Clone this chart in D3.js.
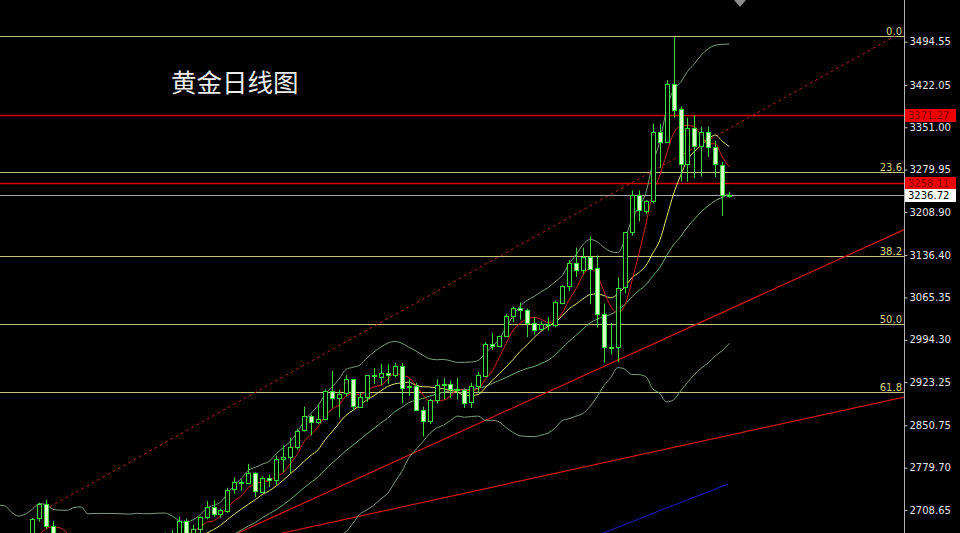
<!DOCTYPE html>
<html><head><meta charset="utf-8">
<script src="https://cdn.jsdelivr.net/npm/d3@7"></script>
<style>html,body{margin:0;padding:0;background:#000;}svg{display:block;}</style>
</head><body>
<svg id="chart" width="960" height="533"></svg>
<script>
// ---- data (daily XAUUSD candles) ----
const dates = ["12-04","12-05","12-06","12-09","12-10","12-11","12-12","12-13","12-16","12-17","12-18","12-19","12-20","12-23","12-24","12-26","12-27","12-30","12-31",
"01-02","01-03","01-06","01-07","01-08","01-09","01-10","01-13","01-14","01-15","01-16","01-17","01-20","01-21","01-22","01-23","01-24","01-27","01-28","01-29","01-30","01-31",
"02-03","02-04","02-05","02-06","02-07","02-10","02-11","02-12","02-13","02-14","02-17","02-18","02-19","02-20","02-21","02-24","02-25","02-26","02-27","02-28",
"03-03","03-04","03-05","03-06","03-07","03-10","03-11","03-12","03-13","03-14","03-17","03-18","03-19","03-20","03-21","03-24","03-25","03-26","03-27","03-28","03-31",
"04-01","04-02","04-03","04-04","04-07","04-08","04-09","04-10","04-11","04-14","04-15","04-16","04-17","04-21","04-22","04-23","04-24","04-25","04-28","04-29","04-30",
"05-01","05-02"];
const opens = [2643,2650,2632,2633,2660,2694,2718,2681,2648,2652,2646,2587,2594,2622,2612,2617,2634,2621,2606,
2624,2658,2640,2636,2648,2662,2670,2690,2662,2677,2697,2714,2702,2708,2743,2755,2754,2770,2740,2763,2760,2795,
2798,2815,2842,2866,2856,2861,2908,2897,2904,2928,2882,2898,2935,2933,2939,2936,2951,2914,2916,2876,
2858,2893,2918,2920,2911,2910,2889,2916,2935,2988,2984,3001,3034,3047,3044,3022,3011,3020,3019,3057,3085,
3124,3113,3134,3114,3037,2982,2983,3082,3175,3237,3211,3227,3343,3327,3424,3381,3288,3349,3319,3343,3317,
3288,3238];
const highs = [2657,2656,2643,2667,2695,2721,2726,2690,2664,2654,2664,2633,2632,2625,2620,2638,2636,2622,2625,
2664,2666,2647,2665,2671,2675,2697,2694,2684,2698,2724,2725,2711,2746,2763,2760,2786,2772,2765,2768,2800,2817,
2830,2845,2882,2869,2886,2911,2942,2910,2935,2929,2906,2935,2947,2954,2953,2956,2955,2928,2922,2882,
2895,2928,2930,2925,2930,2913,2922,2940,2990,3005,3001,3038,3050,3057,3047,3032,3025,3032,3060,3086,3128,
3149,3149,3167,3136,3055,3023,3099,3175,3245,3245,3229,3357,3357,3430,3502,3386,3367,3371,3352,3352,3328,
3293,3243];
const lows = [2630,2624,2613,2631,2655,2689,2677,2643,2643,2634,2583,2583,2584,2603,2606,2615,2616,2597,2601,
2623,2636,2615,2634,2645,2655,2665,2656,2660,2669,2693,2697,2696,2704,2736,2741,2752,2730,2738,2747,2751,2772,
2771,2810,2840,2834,2853,2860,2880,2864,2899,2877,2881,2890,2920,2918,2920,2931,2888,2900,2876,2832,
2853,2887,2894,2896,2894,2880,2880,2905,2932,2977,2983,2999,3024,3028,2999,3003,3010,3010,3015,3054,3076,
3100,3105,3054,3015,2956,2970,2957,3072,3169,3193,3205,3223,3283,3325,3367,3260,3260,3266,3268,3301,3267,
3202,3233];
const closes = [2650,2632,2633,2660,2694,2718,2681,2648,2652,2646,2587,2594,2622,2612,2617,2634,2621,2606,2624,
2658,2640,2636,2648,2662,2670,2690,2662,2677,2697,2714,2702,2708,2743,2755,2754,2770,2740,2763,2760,2795,2798,
2815,2842,2866,2856,2861,2908,2897,2904,2928,2882,2898,2935,2933,2939,2936,2951,2914,2916,2876,2858,
2893,2918,2920,2911,2910,2889,2916,2935,2988,2984,3001,3034,3047,3044,3022,3011,3020,3019,3057,3085,3124,
3113,3134,3114,3037,2982,2983,3082,3175,3237,3211,3227,3343,3327,3424,3381,3288,3349,3319,3343,3317,3288,
3238,3236.72];
// closes before the first visible candle (Nov 4 - Dec 3), used by the indicators
const priorCloses = [2736,2742,2659,2706,2685,2618,2598,2572,2565,2563,2611,2631,2650,2670,2716,2625,2633,2638,2640,2650,2640,2643];

const axisTicks = [3494.55,3422.05,3351.00,3279.95,3208.90,3136.40,3065.35,2994.30,2923.25,2850.75,2779.70,2708.65];
const fibRatios = [0, 0.236, 0.382, 0.5, 0.618];
const fibLabels = ["0.0","23.6","38.2","50.0","61.8"];
const fibHigh = 3503.5, fibLow = 2539;
const redLevels = [3371.27, 3258.11];
const lastPrice = 3236.72;
// trend lines as [candle index, price]
const trendUpper = [[6.5, 2714], [127.8, 3504]];
const trendA = [[29.0, 2646], [129.1, 3179.2]];
const trendB = [[36.0, 2660], [129.1, 2898.2]];
const blueLine = [[85.5, 2668], [95, 2712], [103.8, 2752]];
const title = "黄金日线图";

// ---- drawing ----
const W = 960, H = 533, plotRight = 904;
const svg = d3.select("#chart");
svg.append("rect").attr("width", W).attr("height", H).attr("fill", "#000");

const y = d3.scaleLinear().domain([2708.65, 3494.55]).range([510, 41.7]);
const x = d3.scaleLinear().domain([0, closes.length - 1]).range([4.4, 729.3]);

svg.append("defs").append("clipPath").attr("id","plotClip")
  .append("rect").attr("x",0).attr("y",0).attr("width",plotRight).attr("height",H);
const plot = svg.append("g").attr("clip-path","url(#plotClip)");

const snap = v => Math.round(v) + 0.5;

// fib levels
const fibColor = "#c6c67c";
fibRatios.forEach((r, k) => {
  const v = fibHigh - (fibHigh - fibLow) * r;
  const yy = snap(y(v));
  plot.append("line").attr("x1",0).attr("x2",plotRight).attr("y1",yy).attr("y2",yy)
    .attr("stroke", fibColor).attr("stroke-width",1);
  svg.append("text").attr("x", plotRight - 2).attr("y", yy - 2).attr("text-anchor","end")
    .attr("fill", "#d2d27e").attr("font-family","DejaVu Sans, sans-serif").attr("font-size",10)
    .text(fibLabels[k]);
});

// horizontal red levels and current price line
redLevels.forEach(v => {
  const yy = snap(y(v));
  plot.append("line").attr("x1",0).attr("x2",plotRight).attr("y1",yy).attr("y2",yy)
    .attr("stroke","#dc0000").attr("stroke-width",1.4);
});
plot.append("line").attr("x1",0).attr("x2",plotRight).attr("y1",snap(y(lastPrice))).attr("y2",snap(y(lastPrice)))
  .attr("stroke","#a8a8a8").attr("stroke-width",1);

// trend lines
const seg = d3.line().x(d => x(d[0])).y(d => y(d[1]));
plot.append("path").attr("d", seg(trendUpper)).attr("fill","none").attr("stroke","#b02020")
  .attr("stroke-width",1).attr("stroke-dasharray","3,3");
plot.append("path").attr("d", seg(trendA)).attr("fill","none").attr("stroke","#d01818").attr("stroke-width",1.2);
plot.append("path").attr("d", seg(trendB)).attr("fill","none").attr("stroke","#d01818").attr("stroke-width",1.2);
plot.append("path").attr("d", seg(blueLine)).attr("fill","none").attr("stroke","#1a1aa8").attr("stroke-width",1.2);

// indicators computed from the closes (index -1 = last prior day so lines reach the left edge)
const all = priorCloses.concat(closes);
const off = priorCloses.length;
const idxs = d3.range(-1, closes.length);
function ma(n) {
  return idxs.map(i => [i, d3.mean(all.slice(off + i - n + 1, off + i + 1))]);
}
function band(n, k, sign) {
  return idxs.map(i => {
    const s = all.slice(off + i - n + 1, off + i + 1);
    const m = d3.mean(s);
    const sd = Math.sqrt(d3.mean(s.map(v => (v - m) * (v - m))));
    return [i, m + sign * k * sd];
  });
}
const ln = d3.line().x(d => x(d[0])).y(d => y(d[1])).curve(d3.curveMonotoneX);
plot.append("path").attr("d", ln(band(20,2,1))).attr("fill","none").attr("stroke","#7f9f7f").attr("stroke-width",1);
plot.append("path").attr("d", ln(band(20,2,-1))).attr("fill","none").attr("stroke","#7f9f7f").attr("stroke-width",1);
plot.append("path").attr("d", ln(ma(20))).attr("fill","none").attr("stroke","#74b074").attr("stroke-width",1);
plot.append("path").attr("d", ln(ma(10))).attr("fill","none").attr("stroke","#e6e67a").attr("stroke-width",1);
plot.append("path").attr("d", ln(ma(5))).attr("fill","none").attr("stroke","#d02020").attr("stroke-width",1);

// candles
const green = "#3ddc3d";
const cg = plot.append("g");
closes.forEach((c, i) => {
  const o = opens[i], h = highs[i], l = lows[i];
  const cx = snap(x(i));
  cg.append("line").attr("x1",cx).attr("x2",cx).attr("y1",y(h)).attr("y2",y(l))
    .attr("stroke",green).attr("stroke-width",1);
  const top = y(Math.max(o,c)), bot = y(Math.min(o,c));
  const hgt = Math.max(1, bot - top);
  cg.append("rect").attr("x", cx - 2).attr("y", Math.round(top) + 0.5).attr("width",4)
    .attr("height", Math.max(0.5, Math.round(hgt)))
    .attr("fill", c >= o ? "#000" : "#d6ffc8").attr("stroke",green).attr("stroke-width",1);
});

// right axis
svg.append("line").attr("x1",plotRight+0.5).attr("x2",plotRight+0.5).attr("y1",0).attr("y2",H)
  .attr("stroke","#b4b4b4").attr("stroke-width",1);
const axis = d3.axisRight(y).tickValues(axisTicks).tickSize(3).tickPadding(2)
  .tickFormat(d3.format(".2f"));
const ag = svg.append("g").attr("transform",`translate(${plotRight+0.5},0)`).call(axis);
ag.select(".domain").remove();
ag.selectAll("line").attr("stroke","#c8c8c8");
ag.selectAll("text").attr("fill","#e6e6e6").attr("font-family","DejaVu Sans, sans-serif").attr("font-size",10);

// price boxes
function priceBox(v, bg, fg) {
  const yy = y(v);
  svg.append("rect").attr("x", plotRight + 1).attr("y", Math.round(yy) - 6).attr("width", 51).attr("height", 13).attr("fill", bg);
  svg.append("text").attr("x", plotRight + 4).attr("y", Math.round(yy) + 4).attr("fill", fg)
    .attr("font-family","DejaVu Sans, sans-serif").attr("font-size",10).text(v.toFixed(2));
}
priceBox(redLevels[0], "#f00000", "#8c0000");
priceBox(redLevels[1], "#f00000", "#8c0000");
priceBox(lastPrice, "#ffffff", "#000000");

// shift marker
svg.append("path").attr("d","M734,0 L746,0 L740,7 Z").attr("fill","#8c8c8c");

// title
svg.append("text").attr("x",171).attr("y",92).attr("fill","#ececec")
  .attr("font-family","Noto Sans CJK SC, sans-serif").attr("font-size",25.5).text(title);
</script>
</body></html>
